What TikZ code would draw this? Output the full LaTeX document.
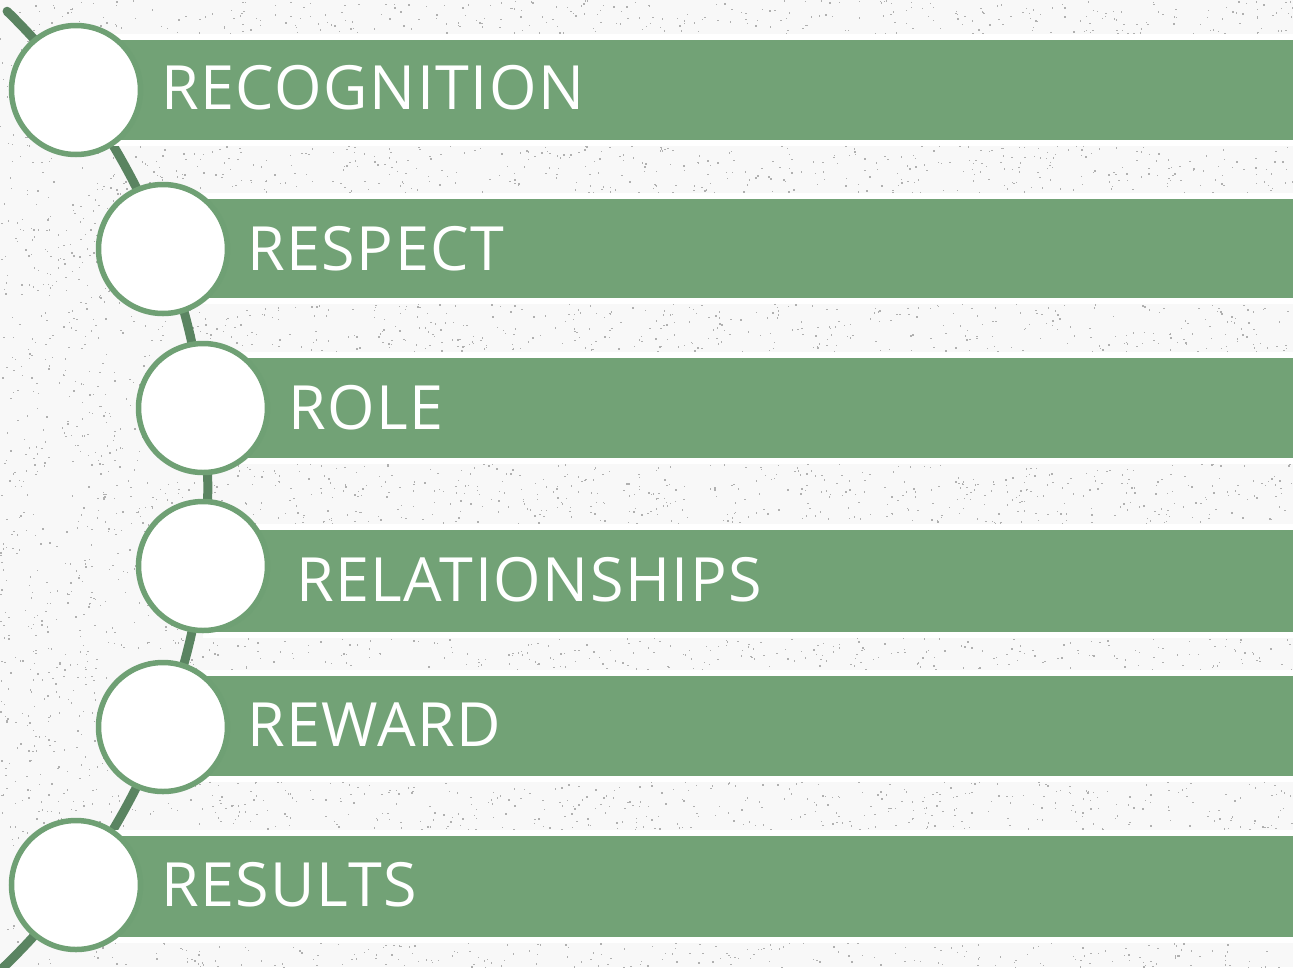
\documentclass[tikz,border=0pt]{standalone}
\usepackage{fontspec}
\setmainfont{Open Sans}[LetterSpace=2.5]
\definecolor{barg}{HTML}{72A276}
\definecolor{lineg}{HTML}{5A8461}
\definecolor{ringg}{HTML}{6FA074}
\definecolor{bgc}{HTML}{F8F8F8}
\definecolor{dotc}{HTML}{B0B0B0}
\begin{document}
\begin{tikzpicture}[x=1pt,y=-1pt,
  bar/.style={fill=barg},
  glow/.style={fill=white},
  ring/.style={circle, fill=white, draw=ringg, line width=5.5pt, minimum size=129pt, inner sep=0pt},
  lbl/.style={anchor=base west, inner sep=0pt, text=white, font=\fontsize{61}{72}\selectfont},
  link/.style={draw=lineg, line width=9pt, line cap=round}]
\useasboundingbox (0,0) rectangle (1293,967);
\begin{scope}
\clip (0,0) rectangle (1293,967);
\fill[bgc] (0,0) rectangle (1293,967);
\pgfmathsetseed{7}
\foreach \i in {1,...,9500}{\fill[dotc] ({rnd*1293},{rnd*967}) rectangle ++(1.4,1.4);}
% connector arc
\coordinate (arcc) at (-457.7,487.5);
\draw[link] (arcc) ++(-45.7:665.5) arc (-45.7:47:665.5);
% bars
\foreach \cx/\t/\b in {76/40/140, 163/199/298, 203/358/458, 203/530/632, 163/676/776, 76/836/937}{
  \fill[glow] (\cx,\t-6) rectangle (1300,\b+6);
}
\foreach \cx/\t/\b in {76/40/140, 163/199/298, 203/358/458, 203/530/632, 163/676/776, 76/836/937}{
  \fill[bar] (\cx,\t) rectangle (1300,\b);
}
\end{scope}
% circles
\node[ring] (c1) at (76,90) {};
\node[ring] (c2) at (163,249) {};
\node[ring] (c3) at (203,408) {};
\node[ring] (c4) at (203,566) {};
\node[ring] (c5) at (163,727) {};
\node[ring] (c6) at (76,885) {};
% labels
\node[lbl] (t1) at (161,109) {RECOGNITION};
\node[lbl] (t2) at (247,270) {RESPECT};
\node[lbl] (t3) at (288,429) {ROLE};
\node[lbl] (t4) at (296,601) {RELATIONSHIPS};
\node[lbl] (t5) at (247,746) {REWARD};
\node[lbl] (t6) at (161,906) {RESULTS};
\end{tikzpicture}
\end{document}
